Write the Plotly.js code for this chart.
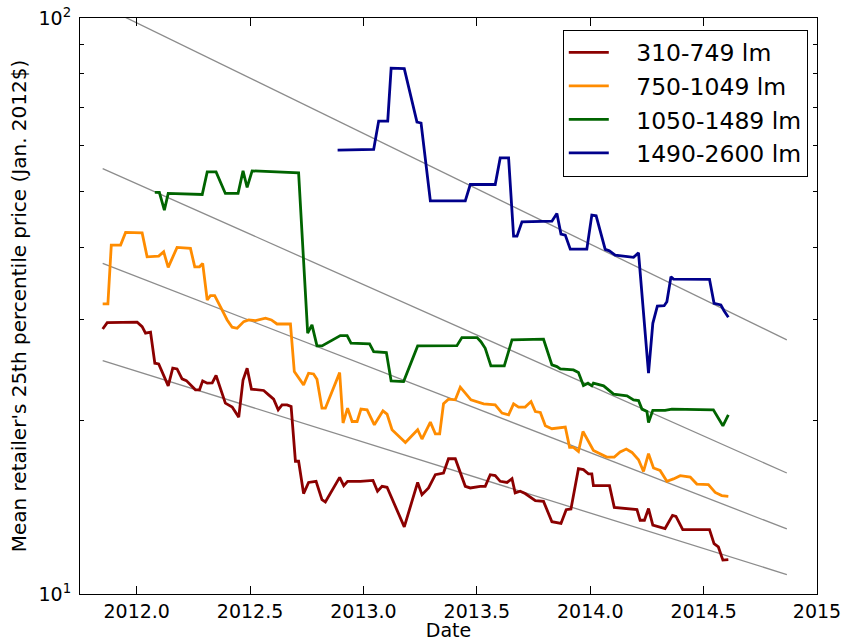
<!DOCTYPE html>
<html>
<head>
<meta charset="utf-8">
<script src="https://cdn.plot.ly/plotly-3.0.1.min.js"></script>
<style>html,body{margin:0;padding:0;background:#fff;}#chart{width:845px;height:641px;}</style>
</head>
<body>
<div id="chart"></div>
<script>
// Series names
const seriesNames = ['310-749 lm', '750-1049 lm', '1050-1489 lm', '1490-2600 lm'];

// 310-749 lm
const redX = [2011.850, 2011.870, 2012.002, 2012.024, 2012.039, 2012.061, 2012.080, 2012.097, 2012.139, 2012.159,
  2012.178, 2012.200, 2012.219, 2012.259, 2012.277, 2012.291, 2012.311, 2012.333, 2012.350, 2012.391,
  2012.421, 2012.450, 2012.469, 2012.487, 2012.506, 2012.560, 2012.582, 2012.604, 2012.624, 2012.641,
  2012.663, 2012.681, 2012.700, 2012.714, 2012.736, 2012.758, 2012.791, 2012.817, 2012.832, 2012.895,
  2012.913, 2012.930, 2012.986, 2013.042, 2013.062, 2013.082, 2013.104, 2013.180, 2013.239, 2013.258,
  2013.287, 2013.317, 2013.353, 2013.375, 2013.405, 2013.449, 2013.471, 2013.515, 2013.537, 2013.559,
  2013.581, 2013.603, 2013.633, 2013.655, 2013.669, 2013.691, 2013.713, 2013.758, 2013.794, 2013.831,
  2013.871, 2013.894, 2013.915, 2013.948, 2013.970, 2013.992, 2014.007, 2014.014, 2014.085, 2014.106,
  2014.206, 2014.220, 2014.239, 2014.257, 2014.276, 2014.330, 2014.363, 2014.378, 2014.408, 2014.526,
  2014.546, 2014.565, 2014.585, 2014.609];
const redY = [28.85, 29.59, 29.64, 29.12, 28.37, 28.48, 25.16, 25.09, 22.98, 24.66,
  24.59, 23.63, 23.47, 22.62, 22.62, 23.44, 23.23, 23.26, 23.95, 21.45,
  21.11, 20.28, 23.53, 24.66, 22.68, 22.56, 22.17, 21.79, 20.88, 21.30,
  21.30, 21.16, 17.00, 17.00, 14.94, 15.62, 15.69, 14.58, 14.45, 15.94,
  15.42, 15.69, 15.69, 15.75, 15.08, 15.38, 15.32, 13.08, 15.62, 14.87,
  15.28, 16.11, 16.22, 17.17, 17.17, 15.38, 15.28, 15.38, 15.38, 16.11,
  16.05, 15.69, 15.62, 15.86, 14.98, 15.08, 14.94, 14.52, 14.48, 13.35,
  13.26, 14.01, 14.05, 16.50, 16.44, 16.17, 16.17, 15.42, 15.42, 14.14,
  14.01, 13.43, 13.43, 14.07, 13.17, 12.99, 13.69, 13.64, 12.94, 12.94,
  12.23, 12.07, 11.45, 11.47];

// 750-1049 lm
const orangeX = [2011.850, 2011.873, 2011.888, 2011.929, 2011.951, 2012.024, 2012.046, 2012.097, 2012.119, 2012.139,
  2012.178, 2012.237, 2012.256, 2012.277, 2012.291, 2012.311, 2012.325, 2012.344, 2012.369, 2012.399,
  2012.421, 2012.443, 2012.472, 2012.494, 2012.524, 2012.568, 2012.594, 2012.619, 2012.678, 2012.695,
  2012.736, 2012.758, 2012.780, 2012.795, 2012.817, 2012.832, 2012.895, 2012.910, 2012.930, 2012.950,
  2012.972, 2012.989, 2013.016, 2013.048, 2013.086, 2013.104, 2013.126, 2013.185, 2013.239, 2013.258,
  2013.295, 2013.317, 2013.336, 2013.353, 2013.375, 2013.405, 2013.427, 2013.474, 2013.530, 2013.581,
  2013.611, 2013.640, 2013.662, 2013.684, 2013.713, 2013.739, 2013.758, 2013.780, 2013.802, 2013.831,
  2013.890, 2013.909, 2013.926, 2013.948, 2013.968, 2014.014, 2014.073, 2014.106, 2014.132, 2014.159,
  2014.184, 2014.213, 2014.235, 2014.257, 2014.279, 2014.308, 2014.338, 2014.367, 2014.397, 2014.441,
  2014.470, 2014.521, 2014.551, 2014.580, 2014.609];
const orangeY = [31.88, 31.88, 40.34, 40.34, 42.43, 42.36, 38.49, 38.60, 39.27, 36.90,
  39.97, 39.81, 36.99, 36.99, 37.50, 32.39, 32.95, 32.95, 31.54, 29.91,
  29.05, 28.93, 29.71, 29.91, 29.82, 30.11, 29.91, 29.43, 29.43, 24.33,
  23.07, 24.17, 24.10, 23.60, 21.02, 21.02, 24.23, 19.81, 21.02, 19.93,
  19.93, 20.94, 20.88, 19.67, 20.80, 20.53, 19.28, 18.33, 19.28, 18.58,
  19.88, 18.97, 18.97, 21.39, 21.79, 21.73, 22.86, 21.73, 21.39, 21.30,
  20.61, 20.47, 21.39, 21.11, 21.11, 21.58, 20.74, 20.66, 19.59, 19.36,
  19.49, 17.97, 17.97, 17.68, 19.15, 17.75, 17.29, 17.29, 17.64, 17.85,
  17.61, 17.10, 16.32, 17.52, 16.55, 16.39, 15.69, 15.84, 16.05, 15.96,
  15.52, 15.48, 15.01, 14.82, 14.78];

// 1050-1489 lm
const greenX = [2012.080, 2012.100, 2012.122, 2012.139, 2012.289, 2012.311, 2012.350, 2012.391, 2012.447, 2012.469,
  2012.487, 2012.509, 2012.714, 2012.754, 2012.773, 2012.795, 2012.817, 2012.862, 2012.898, 2012.928,
  2012.945, 2013.027, 2013.045, 2013.101, 2013.122, 2013.177, 2013.239, 2013.412, 2013.434, 2013.501,
  2013.518, 2013.537, 2013.562, 2013.621, 2013.655, 2013.794, 2013.831, 2013.853, 2013.868, 2013.926,
  2013.948, 2013.970, 2013.990, 2014.007, 2014.014, 2014.059, 2014.103, 2014.162, 2014.191, 2014.213,
  2014.228, 2014.250, 2014.257, 2014.276, 2014.330, 2014.360, 2014.543, 2014.585, 2014.609];
const greenY = [49.80, 49.80, 46.39, 49.59, 49.39, 54.06, 54.06, 49.59, 49.59, 54.27,
  50.79, 54.27, 53.83, 28.37, 29.32, 26.96, 26.96, 27.61, 28.09, 28.09,
  27.25, 27.17, 26.35, 26.25, 23.44, 23.38, 26.96, 26.99, 27.87, 27.87,
  27.42, 26.71, 24.89, 24.89, 27.61, 27.69, 24.99, 24.82, 24.59, 24.49,
  24.23, 23.01, 23.23, 22.98, 23.23, 22.98, 22.23, 22.08, 21.73, 21.67,
  20.94, 20.74, 19.85, 20.84, 20.84, 20.94, 20.88, 19.59, 20.47];

// 1490-2600 lm
const blueX = [2012.886, 2013.001, 2013.045, 2013.067, 2013.107, 2013.122, 2013.180, 2013.236, 2013.254, 2013.295,
  2013.449, 2013.471, 2013.581, 2013.603, 2013.640, 2013.662, 2013.677, 2013.699, 2013.831, 2013.853,
  2013.871, 2013.890, 2013.912, 2013.985, 2014.007, 2014.026, 2014.066, 2014.084, 2014.110, 2014.191,
  2014.213, 2014.257, 2014.276, 2014.296, 2014.326, 2014.338, 2014.356, 2014.367, 2014.526, 2014.546,
  2014.576, 2014.590, 2014.609];
const blueY = [58.96, 59.19, 59.12, 66.24, 66.24, 81.85, 81.66, 65.98, 65.72, 48.15,
  48.15, 51.40, 51.40, 57.15, 57.15, 41.81, 41.81, 44.27, 44.39, 45.79,
  42.15, 41.98, 39.70, 39.70, 45.48, 45.35, 39.65, 39.43, 38.76, 38.41,
  39.12, 24.17, 29.51, 31.62, 31.66, 32.17, 35.54, 35.22, 35.18, 31.97,
  31.75, 31.04, 30.23];

// Gray trend lines (start, end)
const trendX = [2011.850, 2014.867];
const trend1 = [104.8, 27.61];
const trend2 = [54.78, 16.22];
const trend3 = [37.50, 12.97];
const trend4 = [25.42, 10.81];

// Axis ticks
const xTickVals = [2012, 2012.5, 2013, 2013.5, 2014, 2014.5, 2015];
const xTickText = ['2012.0', '2012.5', '2013.0', '2013.5', '2014.0', '2014.5', '2015'];
const yTickVals = [10, 100];
const yTickText = ['10<sup>1</sup>', '10<sup>2</sup>'];
const yMinorVals = [20, 30, 40, 50, 60, 70, 80, 90];

const colors = ['#8b0000', '#ff8c00', '#006400', '#00008b'];

const traces = [];
[trend1, trend2, trend3, trend4].forEach(t => {
  traces.push({x: trendX, y: t, type: 'scatter', mode: 'lines', showlegend: false, hoverinfo: 'skip',
    line: {color: '#8c8c8c', width: 1.3}});
});
const sx = [redX, orangeX, greenX, blueX];
const sy = [redY, orangeY, greenY, blueY];
const gap = '\u00a0\u00a0\u00a0';
for (let i = 0; i < 4; i++) {
  traces.push({x: sx[i], y: sy[i], type: 'scatter', mode: 'lines', name: gap + seriesNames[i],
    legendgroup: 'g' + i, line: {color: colors[i], width: 2.8}});
}

const layout = {
  width: 845, height: 641,
  margin: {l: 80, r: 28, t: 18, b: 47, pad: 0},
  paper_bgcolor: '#ffffff', plot_bgcolor: '#ffffff',
  font: {family: 'DejaVu Sans, sans-serif', color: '#000', size: 19},
  showlegend: true,
  xaxis: {
    range: [2011.75, 2015], tickmode: 'array', tickvals: xTickVals, ticktext: xTickText,
    ticks: 'inside', ticklen: 8, tickwidth: 1, tickcolor: '#000',
    showline: true, linecolor: '#000', linewidth: 1, mirror: 'allticks',
    showgrid: false, zeroline: false, tickfont: {size: 19},
    title: {text: 'Date', font: {size: 19}, standoff: 2}, automargin: false
  },
  yaxis: {
    type: 'log', range: [1, 2], tickmode: 'array', tickvals: yTickVals, ticktext: yTickText,
    ticks: 'inside', ticklen: 8, tickwidth: 1, tickcolor: '#000',
    minor: {tickmode: 'array', tickvals: yMinorVals, ticks: 'inside', ticklen: 4, tickcolor: '#000', showgrid: false},
    showline: true, linecolor: '#000', linewidth: 1, mirror: 'allticks',
    showgrid: false, zeroline: false, tickfont: {size: 19}, ticklabelstandoff: 4,
    title: {text: "Mean retailer's 25th percentile price (Jan. 2012$)", font: {size: 20}, standoff: 6}, automargin: false
  },
  legend: {
    x: 0.9875, xanchor: 'right', y: 0.98, yanchor: 'top',
    bgcolor: '#ffffff', bordercolor: '#000', borderwidth: 1,
    font: {size: 23.5}, tracegroupgap: 0, traceorder: 'grouped', itemwidth: 40
  }
};

Plotly.newPlot('chart', traces, layout, {displayModeBar: false, staticPlot: true});
</script>
</body>
</html>
